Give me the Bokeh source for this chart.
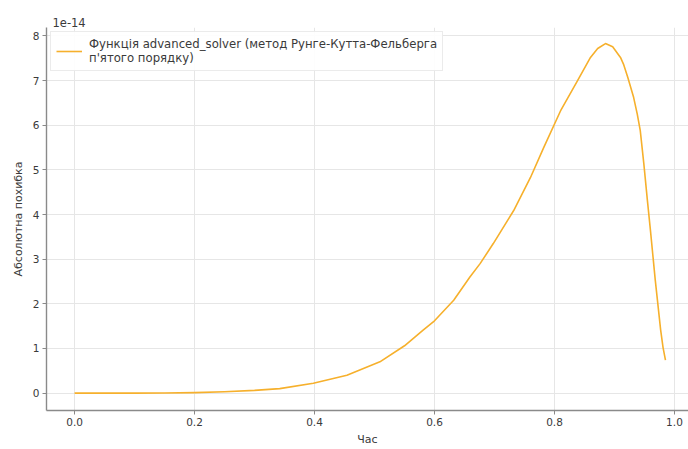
from bokeh.plotting import figure
from bokeh.models import Range1d, FixedTicker, Legend, LegendItem, Title, PrintfTickFormatter
from bokeh.embed import file_html
from bokeh.resources import INLINE

# Time samples and absolute error of the RKF solver (in units of 1e-14)
time_hours = [0.0, 0.05, 0.1, 0.15, 0.2, 0.25, 0.3, 0.342, 0.398, 0.454, 0.509,
              0.55, 0.581, 0.6, 0.632, 0.659, 0.676, 0.698, 0.732, 0.76, 0.782,
              0.81, 0.838, 0.86, 0.872, 0.885, 0.897, 0.91, 0.915, 0.922, 0.932,
              0.938, 0.943, 0.949, 0.955, 0.96, 0.968, 0.977, 0.981, 0.985]
abs_error_e14 = [0.0, 0.0, 0.0, 0.002, 0.01, 0.03, 0.06, 0.10, 0.22, 0.40, 0.70,
                 1.06, 1.41, 1.62, 2.08, 2.60, 2.90, 3.35, 4.09, 4.83, 5.50,
                 6.32, 6.99, 7.52, 7.72, 7.83, 7.76, 7.52, 7.37, 7.08, 6.62,
                 6.25, 5.88, 5.13, 4.30, 3.64, 2.53, 1.41, 1.02, 0.74]

x_ticks = [0.0, 0.2, 0.4, 0.6, 0.8, 1.0]
y_ticks = [0, 1, 2, 3, 4, 5, 6, 7, 8]

FONT = "DejaVu Sans"
TXT = "#3a3a3a"

p = figure(width=688, height=449, output_backend="svg", toolbar_location=None,
           x_range=Range1d(-0.0468, 1.0234), y_range=Range1d(-0.39, 8.19),
           min_border_left=46, min_border_right=0, min_border_top=27,
           min_border_bottom=39)
p.outline_line_color = None
p.background_fill_color = "white"

p.title = Title(text="1e-14", align="left", text_font=FONT, text_font_size="11.5px",
                text_font_style="normal", text_color=TXT, offset=6,
                standoff=2)

line = p.line(time_hours, abs_error_e14, line_color="#f6b02c", line_width=1.6,
              line_join="round")

for ax in (p.xaxis[0], p.yaxis[0]):
    ax.axis_line_color = "#8a8a8a"
    ax.axis_line_width = 1.4
    ax.major_tick_line_color = "#8a8a8a"
    ax.major_tick_out = 4
    ax.major_tick_in = 0
    ax.minor_tick_line_color = None
    ax.major_label_text_font = FONT
    ax.major_label_text_font_size = "10.5px"
    ax.major_label_text_color = TXT
    ax.major_label_standoff = 3
    ax.axis_label_text_font = FONT
    ax.axis_label_text_font_size = "11px"
    ax.axis_label_text_font_style = "normal"
    ax.axis_label_text_color = TXT

p.xaxis.ticker = FixedTicker(ticks=x_ticks)
p.xaxis.formatter = PrintfTickFormatter(format="%.1f")
p.xaxis.axis_label = "Час"
p.xaxis.axis_label_standoff = 4
p.yaxis.ticker = FixedTicker(ticks=y_ticks)
p.yaxis.axis_label = "Абсолютна похибка"
p.yaxis.axis_label_standoff = 5

p.xgrid.grid_line_color = "#e6e6e6"
p.ygrid.grid_line_color = "#e6e6e6"
p.xgrid.ticker = FixedTicker(ticks=x_ticks)
p.ygrid.ticker = FixedTicker(ticks=y_ticks)

legend = Legend(items=[LegendItem(
    label="Функція advanced_solver (метод Рунге-Кутта-Фельберга\nп'ятого порядку)",
    renderers=[line])],
    location="top_left", margin=4, padding=5, spacing=0,
    label_text_font=FONT, label_text_font_size="11.7px", label_text_color=TXT,
    label_text_line_height=1.1, label_standoff=7,
    glyph_width=26, glyph_height=14,
    border_line_color="#d8d8d8", border_line_width=1,
    background_fill_color="white", background_fill_alpha=0.9)
p.add_layout(legend)

open("out.html", "w").write(file_html(p, INLINE))
